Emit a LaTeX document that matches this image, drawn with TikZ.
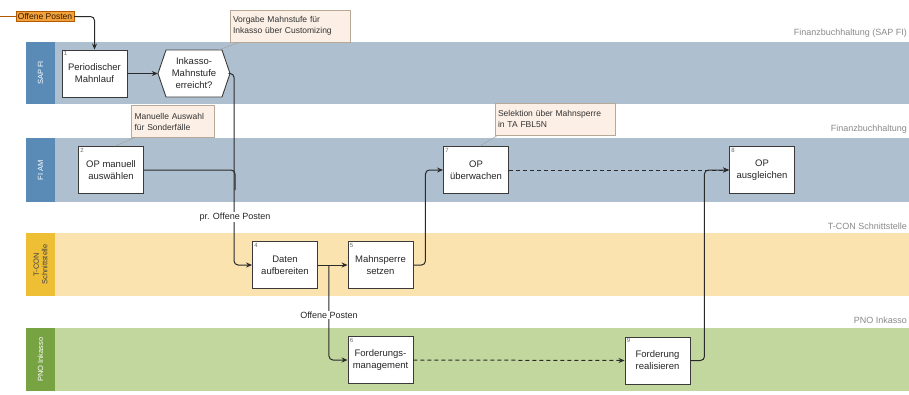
\documentclass[tikz,border=0pt]{standalone}
\usepackage{fontspec}
\setmainfont{Liberation Sans}
\usetikzlibrary{arrows.meta}

\definecolor{laneblue}{HTML}{AEC0D0}
\definecolor{stripblue}{HTML}{5A8BB7}
\definecolor{laneorange}{HTML}{FBE3B0}
\definecolor{striporange}{HTML}{EEBF34}
\definecolor{lanegreen}{HTML}{C2D79E}
\definecolor{stripgreen}{HTML}{78A343}
\definecolor{notefill}{HTML}{FCEFE5}
\definecolor{noteline}{HTML}{B8A898}
\definecolor{tagorange}{HTML}{F2A23A}
\definecolor{flowc}{HTML}{2A2A2A}
\definecolor{titlegray}{HTML}{8A8A8A}
\definecolor{boxline}{HTML}{3A3A3A}

\tikzset{
  lanefill/.style={fill=#1, draw=none},
  stepbox/.style={draw=boxline, line width=0.9pt, fill=white, minimum width=65pt,
    minimum height=47pt, align=center, font=\fontsize{9.5}{12}\selectfont,
    text=black!85, inner sep=1pt},
  hextext/.style={minimum width=72pt, minimum height=47pt, align=center,
    font=\fontsize{9.5}{12}\selectfont, text=black!85, inner sep=0pt},
  hexshape/.style={draw=boxline, line width=0.9pt, fill=white},
  stepnum/.style={anchor=north west, font=\fontsize{6}{7}\selectfont, text=black!60, inner sep=2pt},
  note/.style={draw=noteline, fill=notefill, line width=0.6pt, align=left,
    font=\fontsize{8.5}{11}\selectfont, text=black!80, minimum height=32pt,
    text width=#1, inner sep=3pt},
  leader/.style={draw=black!35, line width=0.6pt},
  flow/.style={draw=flowc, line width=1pt, rounded corners=4pt, -{Stealth[length=6pt,width=5pt]}},
  flowplain/.style={draw=flowc, line width=1pt, rounded corners=4pt},
  dashflow/.style={flow, dash pattern=on 4pt off 3pt},
  flowlabel/.style={fill=white, inner sep=1pt, font=\fontsize{9}{11}\selectfont, text=black!85},
  lanetitle/.style={anchor=east, text=titlegray, font=\fontsize{9}{11}\selectfont, inner sep=0pt},
  lanename/.style={rotate=90, text=white, font=\fontsize{7.5}{8.5}\selectfont, align=center},
  tag/.style={fill=tagorange, draw=orange!70!black, line width=0.4pt,
    font=\fontsize{8.5}{10}\selectfont, text=black!80!orange, inner sep=1.8pt},
}

\begin{document}
\begin{tikzpicture}[x=1pt, y=-1pt]
\useasboundingbox (0,0) rectangle (909,394);
\fill[white] (0,0) rectangle (909,394);

% swimlanes
\fill[lanefill=laneblue]   (26,42)  rectangle (909,104);
\fill[lanefill=stripblue]  (26,42)  rectangle (55,104);
\fill[lanefill=laneblue]   (26,138) rectangle (909,202);
\fill[lanefill=stripblue]  (26,138) rectangle (55,202);
\fill[lanefill=laneorange] (26,233) rectangle (909,296);
\fill[lanefill=striporange](26,233) rectangle (55,296);
\fill[lanefill=lanegreen]  (26,328) rectangle (909,391);
\fill[lanefill=stripgreen] (26,328) rectangle (55,391);

\node[lanename] (ln1) at (40.5,73) {SAP FI};
\node[lanename] (ln2) at (40.5,170) {FI AM};
\node[lanename, text=black!75] (ln3) at (40.5,264.5) {T-CON\\Schnittstelle};
\node[lanename] (ln4) at (40.5,359.5) {PNO Inkasso};

\node[lanetitle] (lt1) at (907,33)  {Finanzbuchhaltung (SAP FI)};
\node[lanetitle] (lt2) at (907,129) {Finanzbuchhaltung};
\node[lanetitle] (lt3) at (907,226) {T-CON Schnittstelle};
\node[lanetitle] (lt4) at (907,320) {PNO Inkasso};

% process steps
\node[stepbox] (b1) at (94.5,73.5) {Periodischer\\Mahnlauf};
\coordinate (hexc) at (194,73.5);
\path[hexshape] ([xshift=-36pt]hexc) -- ([shift={(-28pt,23.5pt)}]hexc)
  -- ([shift={(28pt,23.5pt)}]hexc) -- ([xshift=36pt]hexc)
  -- ([shift={(28pt,-23.5pt)}]hexc) -- ([shift={(-28pt,-23.5pt)}]hexc) -- cycle;
\node[hextext] (hex) at (hexc) {Inkasso-\\Mahnstufe\\erreicht?};
\node[stepbox] (b2) at (111,170)   {OP manuell\\auswählen};
\node[stepbox] (b4) at (285,265)   {Daten\\aufbereiten};
\node[stepbox] (b5) at (380.5,265) {Mahnsperre\\setzen};
\node[stepbox] (b6) at (380.5,360) {Forderungs-\\management};
\node[stepbox] (b7) at (476,170)   {OP\\überwachen};
\node[stepbox] (b8) at (762,170)   {OP\\ausgleichen};
\node[stepbox] (b9) at (657.5,360.5) {Forderung\\realisieren};

\node[stepnum] (k1) at (b1.north west) {1};
\node[stepnum] (k2) at (b2.north west) {2};
\node[stepnum] (k4) at (b4.north west) {4};
\node[stepnum] (k5) at (b5.north west) {5};
\node[stepnum] (k6) at (b6.north west) {6};
\node[stepnum] (k7) at (b7.north west) {7};
\node[stepnum] (k8) at (b8.north west) {8};
\node[stepnum] (k9) at (b9.north west) {9};

% annotations
\node[note=114pt] (c1) at (290,26)    {Vorgabe Mahnstufe für\\Inkasso über Customizing};
\node[note=77pt]  (c2) at (173,121.5) {Manuelle Auswahl\\für Sonderfälle};
\node[note=114pt] (c3) at (555,119)   {Selektion über Mahnsperre\\in TA FBL5N};
\draw[leader] ([xshift=10pt]c1.south west) -- ([shift={(24pt,23.5pt)}]hexc);
\draw[leader] ([xshift=3pt]c2.south west) -- ([xshift=4pt]b2.north);
\draw[leader] ([xshift=3pt]c3.south west) -- ([xshift=4pt]b7.north);

% start event
\coordinate (src) at (0,16.5);
\node[tag] (tag) at (45,16.5) {Offene Posten};
\draw[draw=orange!70!black, line width=1pt] (src) -- (tag.west);

% flows
\coordinate (join) at (235,190);
\draw[flow] (tag.east) -| (b1.north);
\draw[flow] (b1.east) -- (hex.west);
\draw[flow] (hex.east) -| ([xshift=-18pt]b4.west) -- (b4.west);
\draw[flowplain] (b2.east) -| (join);
\node[flowlabel] (f1) at (235,217) {pr. Offene Posten};
\draw[flow] (b4.east) -- (b5.west);
\draw[flow] ([xshift=11pt]b4.east) |- (b6.west);
\node[flowlabel] (f2) at (329,315) {Offene Posten};
\draw[flow] (b5.east) -- ++(12,0) |- (b7.west);
\draw[dashflow] (b7.east) -- (b8.west);
\draw[dashflow] (b6.east) -- (b9.west);
\draw[flow] (b9.east) -- ++(14,0) |- (b8.west);
\end{tikzpicture}
\end{document}
